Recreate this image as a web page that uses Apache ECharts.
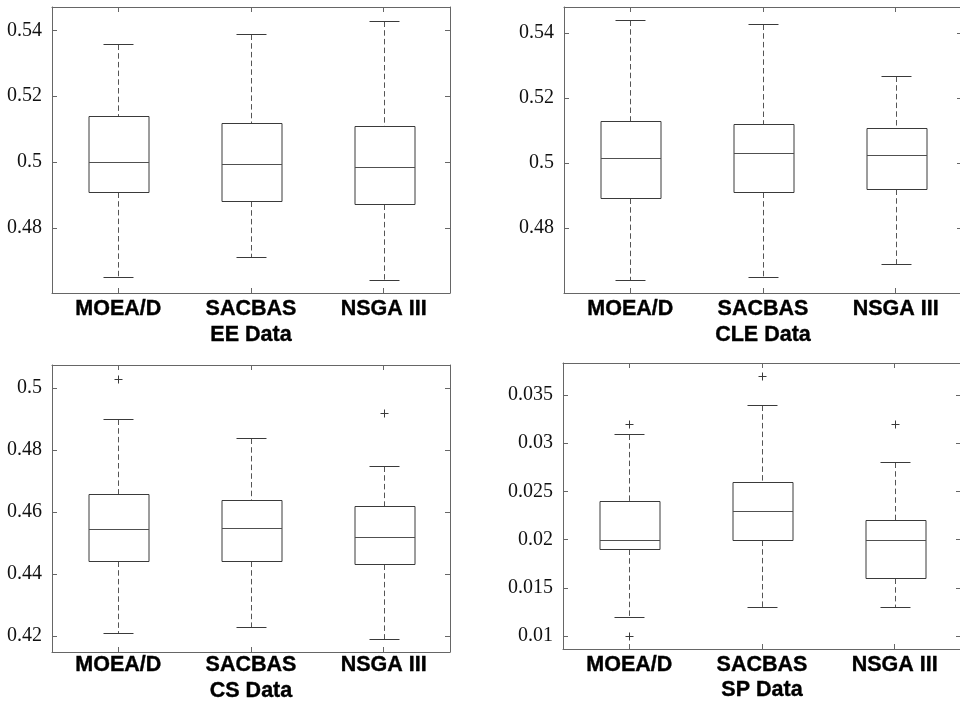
<!DOCTYPE html>
<html>
<head>
<meta charset="utf-8">
<script src="https://cdn.jsdelivr.net/npm/echarts@6/dist/echarts.min.js"></script>
<style>
html,body{margin:0;padding:0;background:#fff;}
#c{width:960px;height:701px;}
</style>
</head>
<body>
<div id="c"></div>
<script>
// ---- data ----
const categories = ['MOEA/D', 'SACBAS', 'NSGA III'];
const panelNames = ['EE Data', 'CLE Data', 'CS Data', 'SP Data'];
// [lower whisker, Q1, median, Q3, upper whisker]
const eeStats = [
  [0.4652, 0.4910, 0.5000, 0.5140, 0.5360],
  [0.4711, 0.4881, 0.4995, 0.5120, 0.5390],
  [0.4642, 0.4871, 0.4985, 0.5109, 0.5428]
];
const cleStats = [
  [0.4640, 0.4892, 0.5014, 0.5128, 0.5439],
  [0.4650, 0.4911, 0.5030, 0.5119, 0.5429],
  [0.4690, 0.4921, 0.5025, 0.5109, 0.5269]
];
const csStats = [
  [0.4210, 0.4442, 0.4545, 0.4659, 0.4901],
  [0.4230, 0.4442, 0.4550, 0.4640, 0.4840],
  [0.4190, 0.4431, 0.4520, 0.4620, 0.4749]
];
const spStats = [
  [0.0120, 0.0190, 0.0200, 0.0240, 0.0310],
  [0.0130, 0.0200, 0.0230, 0.0260, 0.0340],
  [0.0130, 0.0160, 0.0200, 0.0220, 0.0280]
];
// outliers: [category index, value]
const eeOutliers = [];
const cleOutliers = [];
const csOutliers = [[0, 0.5031], [2, 0.4920]];
const spOutliers = [[0, 0.0320], [0, 0.0100], [1, 0.0370], [2, 0.0320]];
// y-axis limits
const eeRange = [0.4602, 0.5471];
const cleRange = [0.4600, 0.5480];
const csRange = [0.4148, 0.5075];
const spRange = [0.00865, 0.03832];

// ---- layout / style ----
const grids = [
  {left: 52, top: 7, width: 398, height: 286},
  {left: 564, top: 7, width: 398, height: 286},
  {left: 52, top: 365, width: 398, height: 287},
  {left: 563, top: 363, width: 398, height: 286}
];
const labelMargins = [5, 5, 2, 5];
const nameGaps = [31, 31, 28, 30];
const statsList = [eeStats, cleStats, csStats, spStats];
const outList = [eeOutliers, cleOutliers, csOutliers, spOutliers];
const ranges = [eeRange, cleRange, csRange, spRange];

const AXIS = '#666';
const BOX = '#3a3a3a';
const WHISK = '#555';
const crisp = v => Math.round(v) + 0.5;
const boldText = {color: '#000', fontFamily: 'Liberation Sans', fontWeight: 'bold', fontSize: 21.5,
  textBorderColor: '#000', textBorderWidth: 0.4};

function renderBox(params, api) {
  const c = api.value(0);
  const lo = api.coord([c, api.value(1)]);
  const q1 = api.coord([c, api.value(2)]);
  const md = api.coord([c, api.value(3)]);
  const q3 = api.coord([c, api.value(4)]);
  const hi = api.coord([c, api.value(5)]);
  const band = api.size([1, 0])[0];
  const hw = band * 0.226;
  const cw = band * 0.113;
  const cx = crisp(q1[0]);
  const yl = crisp(lo[1]), y1 = crisp(q1[1]), ym = crisp(md[1]), y3 = crisp(q3[1]), yh = crisp(hi[1]);
  const dash = {stroke: WHISK, lineWidth: 1, lineDash: [5.5, 3.2]};
  const solid = {stroke: BOX, lineWidth: 1};
  const bx = Math.round(cx - hw), bw = Math.round(2 * hw);
  return {
    type: 'group',
    children: [
      {type: 'line', shape: {x1: cx, y1: yh, x2: cx, y2: y3}, style: dash},
      {type: 'line', shape: {x1: cx, y1: y1, x2: cx, y2: yl}, style: dash},
      {type: 'line', shape: {x1: cx - cw, y1: yh, x2: cx + cw, y2: yh}, style: solid},
      {type: 'line', shape: {x1: cx - cw, y1: yl, x2: cx + cw, y2: yl}, style: solid},
      {type: 'rect', shape: {x: bx, y: y3, width: bw, height: y1 - y3}, style: {fill: 'none', stroke: BOX, lineWidth: 1}},
      {type: 'line', shape: {x1: bx, y1: ym, x2: bx + bw, y2: ym}, style: {stroke: '#505050', lineWidth: 1}}
    ]
  };
}

function renderPlus(params, api) {
  const p = api.coord([api.value(0), api.value(1)]);
  const x = crisp(p[0]), y = crisp(p[1]);
  const s = 4;
  const st = {stroke: BOX, lineWidth: 1};
  return {
    type: 'group',
    children: [
      {type: 'line', shape: {x1: x - s, y1: y, x2: x + s, y2: y}, style: st},
      {type: 'line', shape: {x1: x, y1: y - s, x2: x, y2: y + s}, style: st}
    ]
  };
}

const option = {
  backgroundColor: '#fff',
  animation: false,
  grid: grids.map(g => Object.assign({containLabel: false, outerBoundsMode: 'none', show: false}, g)),
  xAxis: [],
  yAxis: [],
  series: []
};

for (let i = 0; i < 4; i++) {
  // bottom category axis
  option.xAxis.push({
    type: 'category', gridIndex: i, data: categories, position: 'bottom',
    boundaryGap: true,
    axisLine: {show: true, lineStyle: {color: AXIS, width: 1}},
    axisTick: {show: true, inside: true, length: 5, alignWithLabel: true, lineStyle: {color: AXIS}},
    axisLabel: Object.assign({show: true, margin: labelMargins[i]}, boldText),
    splitLine: {show: false},
    name: panelNames[i], nameLocation: 'middle', nameGap: nameGaps[i],
    nameTextStyle: Object.assign({}, boldText)
  });
  // top category axis (border + ticks)
  option.xAxis.push({
    type: 'category', gridIndex: i, data: categories, position: 'top',
    boundaryGap: true,
    axisLine: {show: true, lineStyle: {color: AXIS, width: 1}},
    axisTick: {show: true, inside: true, length: 5, alignWithLabel: true, lineStyle: {color: AXIS}},
    axisLabel: {show: false},
    splitLine: {show: false}
  });
  const r = ranges[i];
  option.yAxis.push({
    type: 'value', gridIndex: i, position: 'left', min: r[0], max: r[1], splitNumber: 5,
    axisLine: {show: true, lineStyle: {color: AXIS, width: 1}},
    axisTick: {show: true, inside: true, length: 5, lineStyle: {color: AXIS}},
    axisLabel: {show: true, margin: 10, color: '#111', fontFamily: 'Liberation Serif', fontSize: 20,
      showMinLabel: false, showMaxLabel: false,
      formatter: v => String(+v.toFixed(4))},
    splitLine: {show: false}
  });
  option.yAxis.push({
    type: 'value', gridIndex: i, position: 'right', min: r[0], max: r[1], splitNumber: 5,
    axisLine: {show: true, lineStyle: {color: AXIS, width: 1}},
    axisTick: {show: true, inside: true, length: 5, lineStyle: {color: AXIS}},
    axisLabel: {show: false},
    splitLine: {show: false}
  });
  option.series.push({
    type: 'custom', xAxisIndex: 2 * i, yAxisIndex: 2 * i,
    renderItem: renderBox,
    data: statsList[i].map((s, k) => [k].concat(s)),
    encode: {x: 0, y: [1, 2, 3, 4, 5]},
    silent: true
  });
  option.series.push({
    type: 'custom', xAxisIndex: 2 * i, yAxisIndex: 2 * i,
    renderItem: renderPlus,
    data: outList[i],
    encode: {x: 0, y: 1},
    silent: true
  });
}

const chart = echarts.init(document.getElementById('c'), null, {renderer: 'canvas'});
chart.setOption(option);
</script>
</body>
</html>
